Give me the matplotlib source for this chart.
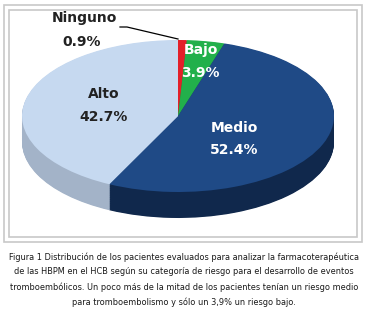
import matplotlib
matplotlib.use("Agg")
import matplotlib.pyplot as plt
from matplotlib import font_manager as fm
from matplotlib.patches import Rectangle
from matplotlib.lines import Line2D

# ---- data ----
categories = ["Ninguno", "Bajo", "Medio", "Alto"]
values = [0.9, 3.9, 52.4, 42.7]
labels_pct = ["0.9%", "3.9%", "52.4%", "42.7%"]
top_colors = ["#e3202a", "#22b04b", "#1f4a86", "#c6d9f0"]
side_colors = ["#a81a1a", "#178236", "#10284c", "#a3b3c8"]
caption_lines = [
    "Figura 1 Distribución de los pacientes evaluados para analizar la farmacoterapéutica",
    "de las HBPM en el HCB según su categoría de riesgo para el desarrollo de eventos",
    "tromboembólicos. Un poco más de la mitad de los pacientes tenían un riesgo medio",
    "para tromboembolismo y sólo un 3,9% un riesgo bajo.",
]

W, H = 368, 314
fig = plt.figure(figsize=(W / 100, H / 100), dpi=100)
fig.patch.set_facecolor("white")

cx, cy, a, b, depth = 178, 116, 156, 76, 26

ax = fig.add_axes([0, 0, 1, 1])
ax.set_axis_off()

nlayers = 40
for i in range(nlayers, 0, -1):
    d = depth * i / nlayers / b
    ax.pie(values, colors=side_colors, startangle=90, counterclock=False,
           center=(0, -d), radius=1, frame=False,
           wedgeprops=dict(linewidth=0))
ax.pie(values, colors=top_colors, startangle=90, counterclock=False,
       center=(0, 0), radius=1, frame=False,
       wedgeprops=dict(linewidth=0))
ax.set_aspect("auto")
ax.set_xlim(-cx / a, (W - cx) / a)
ax.set_ylim((cy - H) / b, cy / b)

ov = fig.add_axes([0, 0, 1, 1], facecolor="none")
ov.set_xlim(0, W)
ov.set_ylim(H, 0)
ov.set_axis_off()

frame_col = "#c8c8c8"
ov.add_patch(Rectangle((4, 5), 358, 237, fill=False, edgecolor=frame_col, lw=1.2))
ov.add_patch(Rectangle((9, 10), 348, 227, fill=False, edgecolor=frame_col, lw=1.2))

ov.add_line(Line2D([120, 127, 178], [27, 27, 39], color="black", lw=0.9))

lab_kw = dict(ha="center", va="center", fontsize=10, fontweight="bold",
              family="DejaVu Sans")
pos = {"Ninguno": ((84, 18), (82, 42), "#222222"),
       "Bajo": ((201, 50), (200, 73), "white"),
       "Medio": ((234, 128), (234, 150), "white"),
       "Alto": ((104, 94), (104, 117), "#222222")}
for cat, pct in zip(categories, labels_pct):
    (x1, y1), (x2, y2), col = pos[cat]
    ov.text(x1, y1, cat, color=col, **lab_kw)
    ov.text(x2, y2, pct, color=col, **lab_kw)

# caption font: prefer a narrow / condensed face, else Roboto
cap_kw = dict(family="Roboto")
for f in fm.fontManager.ttflist:
    nm = f.name.lower()
    if ("narrow" in nm or "condensed" in nm) and f.style == "normal":
        cap_kw = dict(family=f.name)
        break
    if str(f.stretch) in ("condensed", "semi-condensed", "extra-condensed") and f.style == "normal":
        cap_kw = dict(family=f.name, stretch=f.stretch)
        break

cap_y = [257, 272, 287, 302]
texts = []
for y, line in zip(cap_y, caption_lines):
    texts.append(ov.text(184, y, line, ha="center", va="center", fontsize=8,
                         color="#1a1a1a", **cap_kw))

r = fig.canvas.get_renderer()
w0 = texts[0].get_window_extent(r).width
fs = 8 * 349 / w0
for t in texts:
    t.set_fontsize(fs)

fig.savefig("out.png", dpi=100, facecolor="white")
